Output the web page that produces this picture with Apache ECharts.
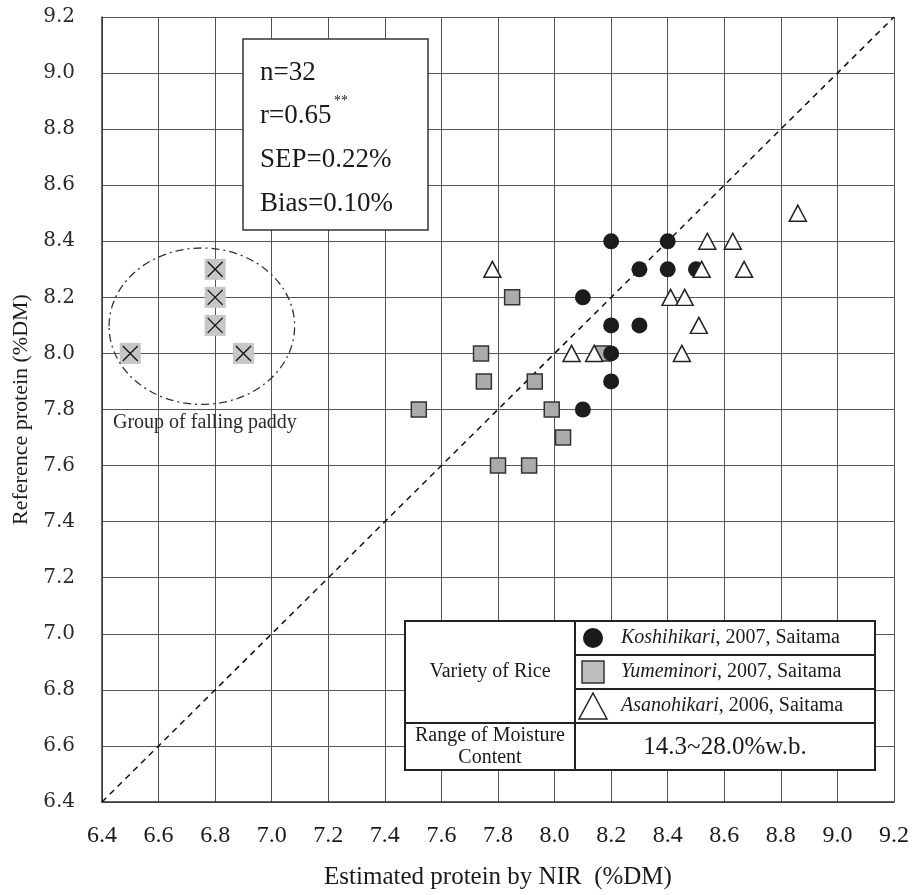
<!DOCTYPE html>
<html>
<head>
<meta charset="utf-8">
<script src="https://cdn.jsdelivr.net/npm/echarts/dist/echarts.min.js"></script>
<style>
html,body{margin:0;padding:0;background:#fff;}
#chart{width:912px;height:895px;}
</style>
</head>
<body>
<div id="chart"></div>
<script>
// ---- data ----
const xTicks = [6.4, 6.6, 6.8, 7.0, 7.2, 7.4, 7.6, 7.8, 8.0, 8.2, 8.4, 8.6, 8.8, 9.0, 9.2];
const yTicks = [6.4, 6.6, 6.8, 7.0, 7.2, 7.4, 7.6, 7.8, 8.0, 8.2, 8.4, 8.6, 8.8, 9.0, 9.2];
const koshihikari = [[8.2,8.4],[8.4,8.4],[8.3,8.3],[8.4,8.3],[8.5,8.3],[8.1,8.2],[8.2,8.1],[8.3,8.1],[8.2,8.0],[8.2,7.9],[8.1,7.8]];
const yumeminori = [[7.85,8.2],[7.74,8.0],[7.75,7.9],[7.93,7.9],[7.99,7.8],[8.03,7.7],[7.8,7.6],[7.91,7.6],[8.17,8.0],[7.52,7.8]];
const asanohikari = [[7.78,8.3],[8.06,8.0],[8.14,8.0],[8.86,8.5],[8.54,8.4],[8.63,8.4],[8.52,8.3],[8.67,8.3],[8.41,8.2],[8.46,8.2],[8.51,8.1],[8.45,8.0]];
const fallingPaddy = [[6.8,8.3],[6.8,8.2],[6.8,8.1],[6.5,8.0],[6.9,8.0]];
const identityLine = [[6.4,6.4],[9.2,9.2]];
const ellipseCenter = [6.753, 8.097];
const ellipseRadius = [0.328, 0.279];
const statLines = ['n=32', 'r=0.65', 'SEP=0.22%', 'Bias=0.10%'];
const legendNames = ['Koshihikari', 'Yumeminori', 'Asanohikari'];
const legendRest = [', 2007, Saitama', ', 2007, Saitama', ', 2006, Saitama'];

const SERIF = '"Liberation Serif","Times New Roman",serif';
const chart = echarts.init(document.getElementById('chart'), null, {renderer:'canvas'});

const tableLeft = 405, tableRight = 875, tableMid = 575, tableTop = 621, rowH = 34, tableBottom = 770;
const rowY = [tableTop + rowH*0.5, tableTop + rowH*1.5, tableTop + rowH*2.5];

const graphics = [];
// stats box
graphics.push({type:'rect', z:50, shape:{x:243, y:39, width:185, height:191}, style:{fill:'#fff', stroke:'#333', lineWidth:1.5}});
const statY = [73, 116, 160, 204];
statLines.forEach((t,i)=>{
  graphics.push({type:'text', z:51, x:260, y:statY[i], style:{text:t, font:'27px '+SERIF, fill:'#1a1a1a', textVerticalAlign:'middle', textAlign:'left'}});
});
graphics.push({type:'text', z:51, x:334, y:101, style:{text:'**', font:'14px '+SERIF, fill:'#1a1a1a', textVerticalAlign:'middle', textAlign:'left'}});

// table
graphics.push({type:'rect', z:50, shape:{x:tableLeft, y:tableTop, width:tableRight-tableLeft, height:tableBottom-tableTop}, style:{fill:'#fff', stroke:'#222', lineWidth:2}});
graphics.push({type:'line', z:51, shape:{x1:tableMid, y1:tableTop, x2:tableMid, y2:tableBottom}, style:{stroke:'#222', lineWidth:2}});
graphics.push({type:'line', z:51, shape:{x1:tableMid, y1:tableTop+rowH, x2:tableRight, y2:tableTop+rowH}, style:{stroke:'#222', lineWidth:2}});
graphics.push({type:'line', z:51, shape:{x1:tableMid, y1:tableTop+rowH*2, x2:tableRight, y2:tableTop+rowH*2}, style:{stroke:'#222', lineWidth:2}});
graphics.push({type:'line', z:51, shape:{x1:tableLeft, y1:tableTop+rowH*3, x2:tableRight, y2:tableTop+rowH*3}, style:{stroke:'#222', lineWidth:2}});
graphics.push({type:'text', z:52, x:(tableLeft+tableMid)/2, y:tableTop+rowH*1.5, style:{text:'Variety of Rice', font:'20px '+SERIF, fill:'#1a1a1a', textAlign:'center', textVerticalAlign:'middle'}});
graphics.push({type:'text', z:52, x:(tableLeft+tableMid)/2, y:(tableTop+rowH*3+tableBottom)/2, style:{text:'Range of Moisture\nContent', font:'20px '+SERIF, lineHeight:22, fill:'#1a1a1a', textAlign:'center', textVerticalAlign:'middle'}});
graphics.push({type:'text', z:52, x:(tableMid+tableRight)/2, y:(tableTop+rowH*3+tableBottom)/2+1, style:{text:'14.3~28.0%w.b.', font:'25px '+SERIF, fill:'#1a1a1a', textAlign:'center', textVerticalAlign:'middle'}});
// legend symbols
graphics.push({type:'circle', z:52, shape:{cx:593, cy:rowY[0], r:10}, style:{fill:'#1a1a1a'}});
graphics.push({type:'rect', z:52, shape:{x:582, y:rowY[1]-11, width:22, height:22}, style:{fill:'#bdbdbd', stroke:'#333', lineWidth:1.5}});
graphics.push({type:'polygon', z:52, shape:{points:[[593,rowY[2]-13],[607,rowY[2]+13],[579,rowY[2]+13]]}, style:{fill:'#fff', stroke:'#222', lineWidth:1.5}});
legendNames.forEach((n,i)=>{
  graphics.push({type:'text', z:52, x:621, y:rowY[i], style:{
    text:'{i|'+n+'}{r|'+legendRest[i]+'}', textVerticalAlign:'middle', textAlign:'left',
    rich:{i:{fontFamily:SERIF, fontSize:20, fontStyle:'italic', fill:'#1a1a1a', color:'#1a1a1a'}, r:{fontFamily:SERIF, fontSize:20, color:'#1a1a1a', fill:'#1a1a1a'}}
  }});
});
// falling paddy label
graphics.push({type:'text', z:40, x:113, y:423, style:{text:'Group of falling paddy', font:'20px '+SERIF, fill:'#2a2a2a', textAlign:'left', textVerticalAlign:'middle'}});

const option = {
  animation:false,
  backgroundColor:'#fff',
  grid:{left:102, right:16, top:17, bottom:90},
  xAxis:{
    type:'value', min:6.4, max:9.2, interval:0.2,
    name:'Estimated protein by NIR  (%DM)', nameLocation:'middle', nameGap:63,
    nameTextStyle:{fontFamily:SERIF, fontSize:25, color:'#1a1a1a'},
    axisLine:{show:true, onZero:false, lineStyle:{color:'#333', width:1.5}},
    axisTick:{show:false},
    axisLabel:{margin:22, fontFamily:SERIF, fontSize:24, color:'#1a1a1a', formatter:v=>v.toFixed(1)},
    splitLine:{show:true, lineStyle:{color:'#555', width:1}}
  },
  yAxis:{
    type:'value', min:6.4, max:9.2, interval:0.2,
    name:'Reference protein (%DM)', nameLocation:'middle', nameGap:70,
    nameTextStyle:{fontFamily:SERIF, fontSize:22, color:'#1a1a1a'},
    axisLine:{show:true, onZero:false, lineStyle:{color:'#333', width:1.5}},
    axisTick:{show:false},
    axisLabel:{margin:27, fontFamily:'"DejaVu Serif",serif', fontSize:20, color:'#2a2a2a', formatter:v=>v.toFixed(1)},
    splitLine:{show:true, lineStyle:{color:'#555', width:1}}
  },
  series:[
    {type:'line', data:identityLine, symbol:'none', silent:true, z:2,
     lineStyle:{color:'#111', width:1.5, type:[6,5]}},
    {type:'scatter', name:'falling-bg', data:fallingPaddy, symbol:'rect', symbolSize:21, z:3,
     itemStyle:{color:'#c6c6c6', opacity:1}},
    {type:'scatter', name:'falling-x', data:fallingPaddy, symbol:'path://M0,0L10,10M0,10L10,0', symbolSize:15, z:4,
     itemStyle:{color:'#111', borderColor:'#111', borderWidth:1.3, opacity:1}},
    {type:'scatter', name:'Yumeminori', data:yumeminori, symbol:'rect', symbolSize:15, z:5,
     itemStyle:{color:'#ababab', borderColor:'#333', borderWidth:1.5, opacity:1}},
    {type:'scatter', name:'Koshihikari', data:koshihikari, symbol:'circle', symbolSize:16, z:6,
     itemStyle:{color:'#1c1c1c', opacity:1}},
    {type:'scatter', name:'Asanohikari', data:asanohikari, symbol:'triangle', symbolSize:[17,16], z:7,
     itemStyle:{color:'#fff', borderColor:'#222', borderWidth:1.5, opacity:1}}
  ],
  graphic:graphics
};
chart.setOption(option);

// dash-dot ellipse around the falling paddy group, positioned through the axes
const c = chart.convertToPixel({gridIndex:0}, ellipseCenter);
const e = chart.convertToPixel({gridIndex:0}, [ellipseCenter[0]+ellipseRadius[0], ellipseCenter[1]+ellipseRadius[1]]);
graphics.push({type:'ellipse', z:30, shape:{cx:c[0], cy:c[1], rx:Math.abs(e[0]-c[0]), ry:Math.abs(e[1]-c[1])},
  style:{fill:'none', stroke:'#333', lineWidth:1.3, lineDash:[8,4,2,4]}});
chart.setOption({graphic:graphics});
</script>
</body>
</html>
